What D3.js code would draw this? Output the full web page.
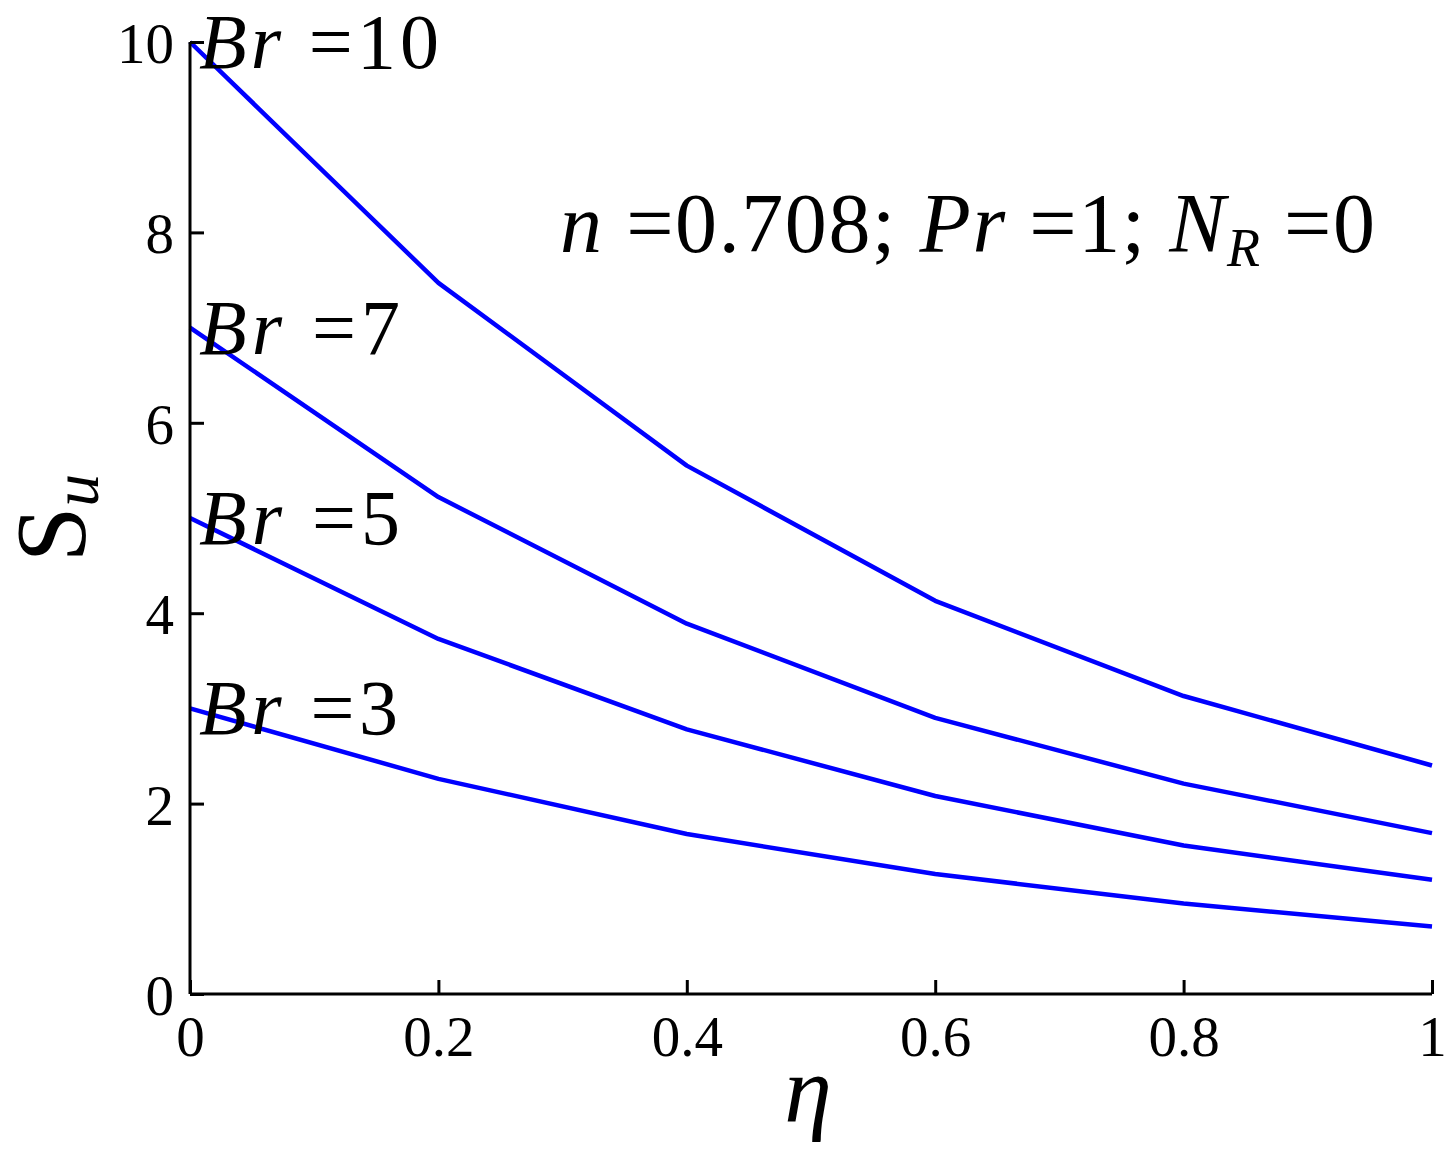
<!DOCTYPE html>
<html><head><meta charset="utf-8">
<script src="https://cdn.jsdelivr.net/npm/d3@7"></script>
<style>body{margin:0;background:#fff}svg{display:block}text{font-family:"Liberation Serif","DejaVu Serif",serif;fill:#000}</style>
</head><body><div id="c"></div>
<script>
const etaValues = [0, 0.2, 0.4, 0.6, 0.8, 1.0];
const seriesNames = ["Br = 10", "Br = 7", "Br = 5", "Br = 3"];
const brValues = [10, 7, 5, 3];
const su_Br10 = [10, 7.47, 5.55, 4.13, 3.13, 2.40];
const su_Br7 = [7, 5.22, 3.89, 2.90, 2.21, 1.69];
const su_Br5 = [5, 3.73, 2.78, 2.08, 1.56, 1.20];
const su_Br3 = [3, 2.26, 1.68, 1.26, 0.95, 0.71];
const xTicks = [0, 0.2, 0.4, 0.6, 0.8, 1];
const yTicks = [0, 2, 4, 6, 8, 10];
const xTickLabels = ["0", "0.2", "0.4", "0.6", "0.8", "1"];
const yTickLabels = ["0", "2", "4", "6", "8", "10"];

const W = 1453, H = 1159;
const svg = d3.select("#c").append("svg").attr("width", W).attr("height", H);
const x = d3.scaleLinear().domain([0, 1]).range([190, 1432]);
const y = d3.scaleLinear().domain([0, 10]).range([994, 42]);

const series = [su_Br10, su_Br7, su_Br5, su_Br3];
const line = d3.line().x((d, i) => x(etaValues[i])).y(d => y(d));
series.forEach(s => {
  svg.append("path").datum(s).attr("d", line)
    .attr("fill", "none").attr("stroke", "#0000ff").attr("stroke-width", 4.5)
    .attr("stroke-linejoin", "round");
});

// axes
const xAxis = d3.axisBottom(x).tickValues(xTicks).tickSize(-14).tickFormat((d, i) => xTickLabels[i]).tickPadding(22);
const gx = svg.append("g").attr("transform", `translate(0,${y(0)})`).call(xAxis);
gx.select(".domain").attr("stroke", "#000").attr("stroke-width", 3).attr("d", `M${x(0)},0H${x(1)}`);
gx.selectAll(".tick line").attr("stroke", "#000").attr("stroke-width", 3);
gx.selectAll(".tick text").attr("font-size", 57).attr("font-family", "Liberation Serif").attr("dy", "0.71em");

const yAxis = d3.axisLeft(y).tickValues(yTicks).tickSize(-14).tickFormat((d, i) => yTickLabels[i]).tickPadding(16);
const gy = svg.append("g").attr("transform", `translate(${x(0)},0)`).call(yAxis);
gy.select(".domain").attr("stroke", "#000").attr("stroke-width", 3).attr("d", `M0,${y(0)}V${y(10)}`);
gy.selectAll(".tick line").attr("stroke", "#000").attr("stroke-width", 3);
gy.selectAll(".tick text").attr("font-size", 57).attr("font-family", "Liberation Serif").attr("dy", "0.36em");

// series labels
const labelLengths = [240, 201, 201, 199];
series.forEach((s, i) => {
  const t = svg.append("text").attr("x", 199).attr("y", y(s[0]) + 26).attr("font-size", 78)
    .attr("textLength", labelLengths[i]).attr("lengthAdjust", "spacing");
  t.append("tspan").attr("font-style", "italic").text("Br");
  t.append("tspan").text(" =" + brValues[i]);
});

// annotation
const a = svg.append("text").attr("x", 560).attr("y", 252).attr("font-size", 84)
  .attr("textLength", 815).attr("lengthAdjust", "spacing");
a.append("tspan").attr("font-style", "italic").text("n");
a.append("tspan").text(" =0.708; ");
a.append("tspan").attr("font-style", "italic").text("Pr");
a.append("tspan").text(" =1; ");
a.append("tspan").attr("font-style", "italic").text("N");
a.append("tspan").attr("font-style", "italic").attr("font-size", 54).attr("dy", 14).text("R");
a.append("tspan").attr("dy", -14).text(" =0");

// axis titles
svg.append("text").attr("x", 808).attr("y", 1122).attr("text-anchor", "middle")
  .attr("font-size", 96).attr("font-style", "italic").text("η");
const yl = svg.append("text").attr("transform", "translate(84,518) rotate(-90)").attr("text-anchor", "middle").attr("font-size", 100);
yl.append("tspan").text("S");
yl.append("tspan").attr("font-style", "italic").attr("font-size", 66).attr("dy", 14).text("u");
</script></body></html>
